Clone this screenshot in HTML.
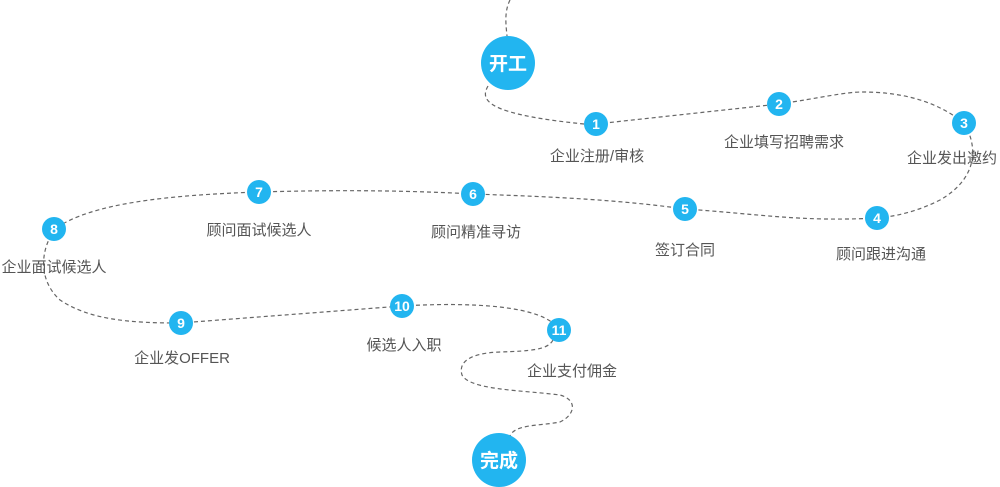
<!DOCTYPE html>
<html><head><meta charset="utf-8"><style>
html,body{margin:0;padding:0;background:#fff;width:1000px;height:487px;overflow:hidden}
text{font-family:"Liberation Sans","Noto Sans CJK SC",sans-serif}
</style></head><body>
<svg width="1000" height="487" viewBox="0 0 1000 487" xmlns="http://www.w3.org/2000/svg">
<g fill="none" stroke="#666" stroke-width="1.2" stroke-dasharray="4,3">
<path d="M510,0 C504,12 506,25 507,36"/>
<path d="M488,86 C480,100 485,114 584,124"/>
<path d="M596,124 L779,104"/>
<path d="M779,104 C820,98 845,92 862,92 C900,92 935,100 964,123"/>
<path d="M964,123 C980,150 975,180 940,200 C920,210 900,216 877,218"/>
<path d="M877,218 C800,222 760,214 685,209"/>
<path d="M685,209 C620,200 560,197 473,194"/>
<path d="M473,194 C400,190 330,190 259,192"/>
<path d="M259,192 C170,195 90,203 55,229"/>
<path d="M55,229 C40,250 38,280 60,300 C90,320 130,323 180,323"/>
<path d="M180,323 L402,306"/>
<path d="M402,306 C470,302 545,305 559,330"/>
<path d="M553,340 C548,350 530,351 500,352 C470,353 458,362 462,375 C470,390 520,390 560,395 C578,400 575,415 560,422 C540,426 515,424 510,436"/>
</g>
<g fill="#22b5f0">
<circle cx="508" cy="63" r="27"/>
<circle cx="499" cy="460" r="27"/>
<circle cx="596" cy="124" r="12"/>
<circle cx="779" cy="104" r="12"/>
<circle cx="964" cy="123" r="12"/>
<circle cx="877" cy="218" r="12"/>
<circle cx="685" cy="209" r="12"/>
<circle cx="473" cy="194" r="12"/>
<circle cx="259" cy="192" r="12"/>
<circle cx="54" cy="229" r="12"/>
<circle cx="181" cy="323" r="12"/>
<circle cx="402" cy="306" r="12"/>
<circle cx="559" cy="330" r="12"/>
</g>
<g fill="#fff" font-weight="bold" text-anchor="middle">
<text x="508" y="70" font-size="19">开工</text>
<text x="499" y="467" font-size="19">完成</text>
<g font-size="14">
<text x="596" y="129">1</text>
<text x="779" y="109">2</text>
<text x="964" y="128">3</text>
<text x="877" y="223">4</text>
<text x="685" y="214">5</text>
<text x="473" y="199">6</text>
<text x="259" y="197">7</text>
<text x="54" y="234">8</text>
<text x="181" y="328">9</text>
<text x="402" y="311">10</text>
<text x="559" y="335">11</text>
</g>
</g>
<g fill="#555" font-size="15" text-anchor="middle">
<text x="597" y="161">企业注册/审核</text>
<text x="784" y="147">企业填写招聘需求</text>
<text x="952" y="163">企业发出邀约</text>
<text x="881" y="259">顾问跟进沟通</text>
<text x="685" y="255">签订合同</text>
<text x="476" y="237">顾问精准寻访</text>
<text x="259" y="235">顾问面试候选人</text>
<text x="54" y="272">企业面试候选人</text>
<text x="182" y="363">企业发OFFER</text>
<text x="404" y="350">候选人入职</text>
<text x="572" y="376">企业支付佣金</text>
</g>
</svg>
</body></html>
